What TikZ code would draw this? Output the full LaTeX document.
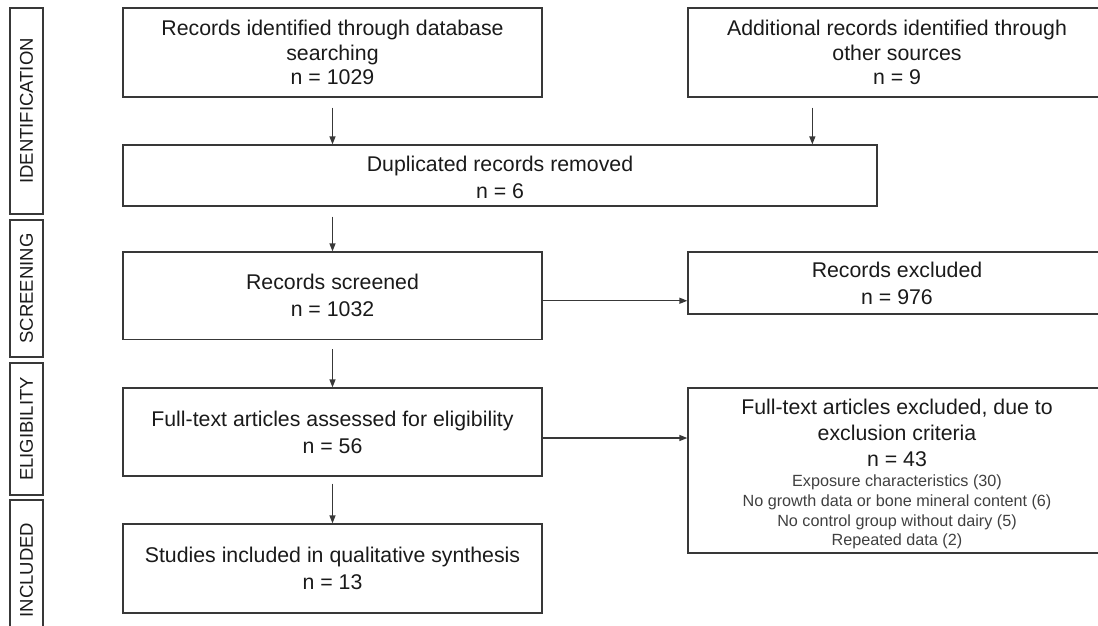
\documentclass[tikz,border=0pt]{standalone}
\usepackage{fontspec}
\setmainfont{Liberation Sans}
\usetikzlibrary{arrows.meta,calc}
\definecolor{linec}{HTML}{383838}
\definecolor{textc}{HTML}{1A1A1A}
\definecolor{smallc}{HTML}{404040}
\begin{document}
\begin{tikzpicture}[x=1pt,y=-1pt,
  box/.style={draw=linec, line width=1.3pt, rectangle, inner sep=0pt, align=center, text=textc},
  bigtxt/.style={font=\fontsize{21.3}{27}\selectfont},
  bigtxtc/.style={font=\fontsize{21.3}{24.5}\selectfont},
  sidebox/.style={draw=linec, line width=1.3pt, rectangle, inner sep=0pt, rotate=90,
                  minimum height=33pt, text=textc, font=\fontsize{18.5}{20}\selectfont},
  plain/.style={inner sep=0pt, align=center},
  arr/.style={draw=linec, line width=1.3pt, -{Triangle[length=8pt,width=6pt]}}]
\useasboundingbox (0,0) rectangle (1098,625);
\clip (0,0) rectangle (1098,625);

% side phase labels
\node[sidebox, minimum width=206pt] (s1) at (26.5,111) {IDENTIFICATION};
\node[sidebox, minimum width=137pt] (s2) at (26.5,288.5) {SCREENING};
\node[sidebox, minimum width=132pt] (s3) at (26.5,429) {ELIGIBILITY};
\node[sidebox, minimum width=140pt] (s4) at (26.5,570) {INCLUDED};

% boxes
\node[box, bigtxtc, minimum width=419pt, minimum height=89pt] (b1) at (332.5,52.5)
  {Records identified through database\\searching\\n = 1029};
\node[box, bigtxtc, minimum width=418pt, minimum height=89pt] (b2) at (897,52.5)
  {Additional records identified through\\other sources\\n = 9};
\node[box, minimum width=754pt, minimum height=61pt] (b3) at (500,175.5) {};
\node[plain, text=textc, bigtxt] (b3t) at (500,177) {Duplicated records removed\\n = 6};
\node[box, bigtxt, minimum width=419pt, minimum height=87.5pt] (b4) at (332.5,295.75)
  {Records screened\\n = 1032};
\node[box, bigtxt, minimum width=418pt, minimum height=62pt] (b5) at (897,283)
  {Records excluded\\n = 976};
\node[box, bigtxt, minimum width=419pt, minimum height=88pt] (b6) at (332.5,432)
  {Full-text articles assessed for eligibility\\n = 56};
\node[box, minimum width=418pt, minimum height=165pt] (b7) at (897,470.5) {};
\node[plain, text=textc, font=\fontsize{21.3}{25.8}\selectfont] (b7t) at (897,433)
  {Full-text articles excluded, due to\\exclusion criteria\\n = 43};
\node[plain, text=smallc, font=\fontsize{16.2}{19.7}\selectfont] (b7s) at (897,512)
  {Exposure characteristics (30)\\No growth data or bone mineral content (6)\\No control group without dairy (5)\\Repeated data (2)};
\node[box, bigtxt, minimum width=419pt, minimum height=89pt] (b8) at (332.5,568.5)
  {Studies included in qualitative synthesis\\n = 13};

% connectors
\draw[arr] ($(b1.south)+(0,10)$) -- (b1.south |- b3.north);
\coordinate (c2) at ($(b2.south west)+(125,10)$);
\draw[arr] (c2) -- (c2 |- b3.north);
\draw[arr] ($(b4.north |- b3.south)+(0,10)$) -- (b4.north);
\draw[arr] ($(b4.south)+(0,9)$) -- (b6.north);
\draw[arr] ($(b6.south)+(0,7)$) -- (b8.north);
\coordinate (h1) at ($(b4.east)+(0,5)$);
\draw[arr] (h1) -- (h1 -| b5.west);
\coordinate (h2) at ($(b6.east)+(0,6)$);
\draw[arr] (h2) -- (h2 -| b7.west);
\end{tikzpicture}
\end{document}
